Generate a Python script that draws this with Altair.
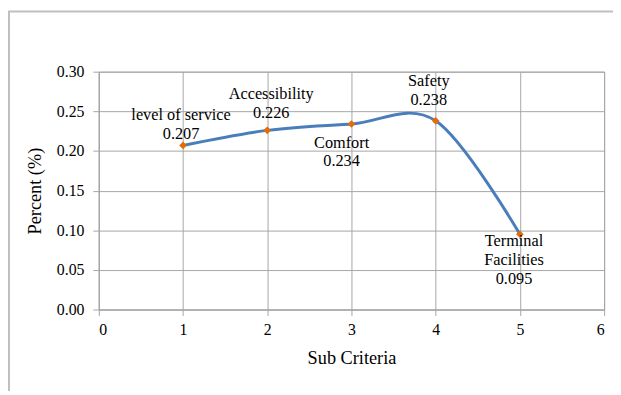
import altair as alt
import pandas as pd

# ---- data ----
x_vals = [1, 2, 3, 4, 5]
names = ["level of service", "Accessibility", "Comfort", "Safety", "Terminal\nFacilities"]
values = [0.207, 0.226, 0.234, 0.238, 0.095]
value_text = ["0.207", "0.226", "0.234", "0.238", "0.095"]
x_ticks = [0, 1, 2, 3, 4, 5, 6]
y_ticks = [0.0, 0.05, 0.10, 0.15, 0.20, 0.25, 0.30]

df = pd.DataFrame({
    "x": x_vals,
    "y": values,
    "label": [n + "\n" + v for n, v in zip(names, value_text)],
})

FONT = "Liberation Serif"
GRID = "#a6a6a6"
W, H = 512, 241

xscale = alt.Scale(domain=[0, 6], nice=False, zero=False)
yscale = alt.Scale(domain=[0, 0.3], nice=False)

x_enc = alt.X("x:Q", scale=xscale, axis=alt.Axis(
    values=x_ticks, format="d", title="Sub Criteria",
    labelPadding=6, titleY=49, titleBaseline="middle",
))
y_enc = alt.Y("y:Q", scale=yscale, axis=alt.Axis(
    values=y_ticks, format=".2f", title="Percent (%)",
    labelPadding=9, titleX=-65, titleY=H / 2, titleAngle=270,
    titleBaseline="middle", titleAlign="center",
))

base = alt.Chart(df)

line = base.mark_line(
    interpolate="cardinal", tension=0, color="#4a7ebb", strokeWidth=3
).encode(x=x_enc, y=y_enc)

points = base.mark_point(
    shape="diamond", filled=True, color="#e36c09", size=60, opacity=1
).encode(x="x:Q", y="y:Q")

# label offsets (style) for each point, in order: offset of the first text line
offsets = [(-2, -31), (4, -37), (-10, 19), (-7, -40), (-6, 7)]
labels = []
for xv, (dx, dy) in zip(x_vals, offsets):
    labels.append(
        base.transform_filter(alt.datum.x == xv).mark_text(
            font=FONT, fontSize=16.5, color="#000000", lineBreak="\n",
            lineHeight=19, align="center", baseline="middle", dx=dx, dy=dy,
        ).encode(x="x:Q", y="y:Q", text="label:N")
    )

frame_df = pd.DataFrame({"a": [0]})
frame = alt.Chart(frame_df).mark_rect(
    fill="white", fillOpacity=0, stroke="#bfbfbf", strokeWidth=2
).encode(
    x=alt.value(-91), x2=alt.value(620), y=alt.value(-61), y2=alt.value(400)
)

chart = alt.layer(frame, line, points, *labels).properties(
    width=W, height=H,
    autosize=alt.AutoSizeParams(type="none"),
    padding={"left": 92, "top": 62, "right": 9, "bottom": 80},
    background="white",
).configure_view(
    stroke=GRID, strokeWidth=1
).configure_axis(
    grid=True, gridColor=GRID, gridWidth=1,
    domainColor=GRID, domainWidth=1,
    tickColor=GRID, tickSize=6, tickWidth=1,
    labelFont=FONT, labelFontSize=16, labelColor="#000000",
    titleFont=FONT, titleFontSize=18.5, titleFontWeight="normal", titleColor="#000000",
)

chart.save("out.html", embed_options={"renderer": "svg", "actions": False})
